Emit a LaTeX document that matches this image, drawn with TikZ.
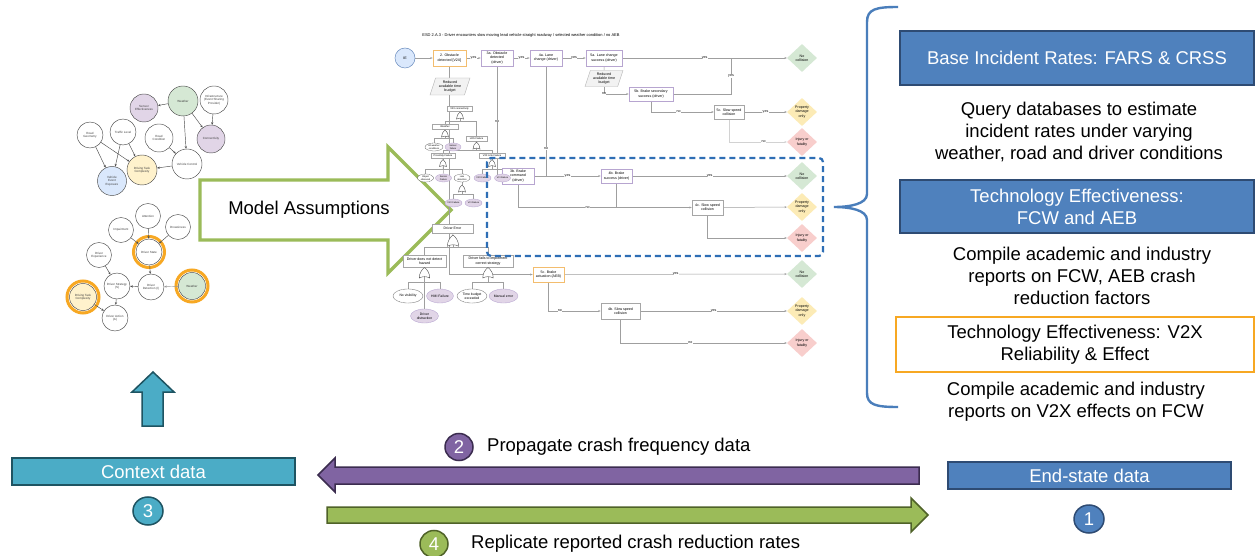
\documentclass[tikz,border=0pt]{standalone}
\usepackage{fontspec}
\setmainfont{Liberation Sans}
\usetikzlibrary{shapes.geometric,arrows.meta}
\pgfdeclarelayer{under}
\pgfdeclarelayer{wires}
\pgfsetlayers{under,wires,main}

\definecolor{blueF}{HTML}{4F81BD}
\definecolor{blueD}{HTML}{2E4B73}
\definecolor{tealF}{HTML}{4BACC6}
\definecolor{tealD}{HTML}{1E5462}
\definecolor{purpF}{HTML}{8064A2}
\definecolor{purpD}{HTML}{3B2C4F}
\definecolor{greenF}{HTML}{9BBB59}
\definecolor{greenD}{HTML}{4F6228}
\definecolor{mgreen}{HTML}{9BBB59}
\definecolor{orng}{HTML}{F7A823}
\definecolor{dashblue}{HTML}{2E6EB5}
\definecolor{braceblue}{HTML}{4A7EBB}
\definecolor{netG}{HTML}{D5E8D4}
\definecolor{netP}{HTML}{E1D5E7}
\definecolor{netY}{HTML}{FFF2CC}
\definecolor{netB}{HTML}{DAE8FC}
\definecolor{okF}{HTML}{D5E8D4}
\definecolor{pdF}{HTML}{FCEBB6}
\definecolor{ifF}{HTML}{F8CECC}
\definecolor{ieD}{HTML}{6C8EBF}
\definecolor{oline}{HTML}{F3BD6E}
\definecolor{pline}{HTML}{B7A5D0}

\tikzset{
  big/.style={font=\fontsize{18.5}{22}\selectfont},
  panel/.style={draw=blueD, line width=1.6pt, fill=blueF, text=white, big, align=center, inner sep=0pt},
  numdisc/.style={ellipse, line width=1.5pt, minimum width=30pt, minimum height=28pt, inner sep=0pt, text=white, big},
  tiny/.style={font=\fontsize{3.6}{4.2}\selectfont},
  etbox/.style={draw=gray!70, fill=white, line width=0.5pt, tiny, align=center, inner sep=0.5pt},
  obox/.style={etbox, draw=oline, line width=0.8pt},
  pbox/.style={etbox, draw=pline, line width=0.8pt},
  par/.style={trapezium, trapezium left angle=70, trapezium right angle=110, draw=gray!60, fill=gray!10, line width=0.4pt, tiny, align=center, inner sep=0pt, trapezium stretches=true},
  endd/.style={diamond, tiny, align=center, inner sep=0pt, minimum width=30pt, minimum height=28pt, draw=none},
  wire/.style={draw=gray!75, line width=0.5pt},
  warrow/.style={wire, -{Stealth[length=2.4pt,width=2pt]}},
  lbl/.style={tiny, fill=white, inner sep=0.3pt},
  ftw/.style={draw=gray!75, line width=0.4pt},
  ftbox/.style={draw=gray!70, fill=white, line width=0.4pt, font=\fontsize{2.5}{3}\selectfont, inner sep=0.3pt, minimum height=5pt},
  ellW/.style={ellipse, draw=black!70, dash pattern=on 0.8pt off 0.5pt, line width=0.35pt, fill=white, align=center, inner sep=0pt},
  ellP/.style={ellipse, draw=pline, line width=0.35pt, fill=netP, align=center, inner sep=0pt},
  small/.style={font=\fontsize{2.3}{2.7}\selectfont, minimum width=16pt, minimum height=8pt},
  mid/.style={font=\fontsize{3.4}{3.9}\selectfont, minimum width=29pt, minimum height=14pt},
  gateline/.style={draw=black!70, fill=white, line width=0.4pt},
  orgate/.pic={
    \draw[gateline] (0,0) .. controls (2,1.5) and (3.5,4) .. (3.5,7)
      .. controls (1.2,5.8) and (-1.2,5.8) .. (-3.5,7)
      .. controls (-3.5,4) and (-2,1.5) .. (0,0);
    \coordinate (-in) at (0,0);
    \coordinate (-out) at (0,6);
  },
  net/.style={circle, draw=black!70, line width=0.45pt, fill=white, minimum size=28pt, inner sep=0pt, align=center, font=\fontsize{3}{3.5}\selectfont, text=black!75},
  netarr/.style={draw=black!70, line width=0.45pt, -{Stealth[length=2.6pt,width=2.2pt]}},
  ring/.style={draw=orng, line width=3pt},
}

\begin{document}
\begin{tikzpicture}[x=1pt,y=-1pt]
\useasboundingbox (0,0) rectangle (1256,556);

\begin{pgfonlayer}{under}
  \fill[white] (0,0) rectangle (1256,556);
  % open arrow carrying the model assumptions
  \path[draw=mgreen, line width=3.2pt, fill=white, line join=miter]
    (200,180) -- (388,180) -- (388,147) -- (451,210) -- (388,273) -- (388,240) -- (200,240) -- cycle;
\end{pgfonlayer}
\node[big] (ma) at (309,210) {Model Assumptions};

% ---------------- upper influence network ----------------
\node[net, fill=netG, minimum size=30pt] (w1) at (183,101) {Weather};
\node[net, fill=netP] (sens) at (144,108) {Sensor\\Effectiveness};
\node[net] (infra) at (214,100) {Infrastructure\\(Event Sharing\\Provider)};
\node[net, fill=netP] (conn) at (211,139) {Connectivity};
\node[net, minimum size=26pt] (rgeo) at (90,135) {Road\\Geometry};
\node[net, minimum size=26pt] (traf) at (123,132) {Traffic Level};
\node[net] (rcond) at (159,138) {Road\\Condition};
\node[net, minimum size=30pt] (vctl) at (187,164) {Vehicle Control};
\node[net, fill=netY, minimum size=30pt] (dtc1) at (142,170) {Driving Task\\Complexity};
\node[net, fill=netB, minimum size=29pt] (vee) at (112,181) {Vehicle\\Event\\Exposure};
\draw[netarr] (w1) -- (sens);
\draw[netarr] (w1) -- (conn);
\draw[netarr] (w1) -- (vctl);
\draw[netarr] (infra) -- (conn);
\draw[netarr] (rgeo) -- (vee);
\draw[netarr] (rgeo) -- (dtc1);
\draw[netarr] (traf) -- (vee);
\draw[netarr] (traf) -- (dtc1);
\draw[netarr] (rcond) -- (vctl);
\draw[netarr] (vctl) -- (dtc1);

% ---------------- lower influence network ----------------
\node[net, minimum size=25pt] (attn) at (148,216) {Attention};
\node[net, minimum size=25pt] (impair) at (121,230) {Impairment};
\node[net, minimum size=25pt] (drowsy) at (178,227) {Drowsiness};
\node[net, minimum size=26pt] (dstate) at (149,252) {Driver State};
\node[net, minimum size=25pt] (dexp) at (99,255) {Driver\\Experience};
\node[net, minimum size=26pt] (dstrat) at (117,286) {Driver Strategy\\(S)};
\node[net, minimum size=26pt] (ddet) at (151,287) {Driver\\Detection (I)};
\node[net, fill=netG, minimum size=27pt] (w2) at (192,286) {Weather};
\node[net, fill=netY, minimum size=27pt] (dtc2) at (83,297) {Driving Task\\Complexity};
\node[net, minimum size=26pt] (dact) at (115,318) {Driver Action\\(A)};
\draw[ring] (dstate) circle[radius=15.5pt];
\draw[ring] (w2) circle[radius=16pt];
\draw[ring] (dtc2) circle[radius=16pt];
\draw[netarr] (impair) -- (dstate);
\draw[netarr] (attn) -- (dstate);
\draw[netarr] (drowsy) -- (dstate);
\draw[netarr] (dstate) -- (ddet);
\draw[netarr, draw=black!40] (w2) -- (ddet);
\draw[netarr] (dexp) -- (dstrat);
\draw[netarr] (ddet) -- (dstrat);
\draw[netarr] (dstrat) -- (dact);
\draw[netarr] (dtc2) -- (dact);

% ---------------- event sequence diagram ----------------
\node[font=\fontsize{4}{4.6}\selectfont] (esdtitle) at (521,35) {ESD 2.A.3 - Driver encounters slow moving lead vehicle straight roadway / selected weather condition / no AEB};

\node[circle, draw=ieD, fill=netB, line width=0.5pt, minimum size=20pt, tiny, inner sep=0pt] (ie) at (405,58) {IE};
\node[obox, minimum width=33pt, minimum height=16pt] (e2) at (449.5,58) {2. Obstacle\\detected [V2X]};
\node[pbox, minimum width=32pt, minimum height=16pt] (e3a) at (497,58) {3a. Obstacle\\detected\\(driver)};
\node[pbox, minimum width=32pt, minimum height=16pt] (e4a) at (546,58) {4a. Lane\\change (driver)};
\node[pbox, minimum width=36pt, minimum height=16pt] (e5a) at (604,58) {5a. Lane change\\success (driver)};
\node[endd, fill=okF] (x1) at (802,58) {No\\collision};
\node[par, minimum width=38pt, minimum height=16pt] (r1) at (604,78.5) {Reduced\\available time\\budget};
\node[pbox, minimum width=44pt, minimum height=14pt] (e5b) at (651,94) {5b. Brake secondary\\success (driver)};
\node[etbox, minimum width=30pt, minimum height=14pt] (e5c) at (729,112) {5c. Slow speed\\collision};
\node[endd, fill=pdF] (x2) at (802,112) {Property\\damage\\only};
\node[endd, fill=ifF] (x3) at (802,142) {Injury or\\fatality};

\node[pbox, minimum width=32pt, minimum height=16pt] (e3b) at (518,176) {3b. Brake\\command\\(driver)};
\node[pbox, minimum width=31pt, minimum height=14pt] (e4b) at (616.5,176) {4b. Brake\\success (driver)};
\node[endd, fill=okF] (x4) at (802,176) {No\\collision};
\node[etbox, minimum width=31pt, minimum height=15pt] (e4c) at (707.5,207.5) {4c. Slow speed\\collision};
\node[endd, fill=pdF] (x5) at (802,207) {Property\\damage\\only};
\node[endd, fill=ifF] (x6) at (802,238) {Injury or\\fatality};

\node[obox, minimum width=31pt, minimum height=15pt] (eaeb) at (548.5,274.5) {5c. Brake\\actuation (AEB)};
\node[endd, fill=okF] (x7) at (802,274) {No\\collision};
\node[etbox, line width=0.8pt, minimum width=39pt, minimum height=16pt] (e5d) at (620.5,311) {4b. Slow speed\\collision};
\node[endd, fill=pdF] (x8) at (802,311) {Property\\damage\\only};
\node[endd, fill=ifF] (x9) at (802,343) {Injury or\\fatality};

\coordinate (j1) at (731,58);
\coordinate (j2) at (546,176);
\coordinate (j3) at (616.5,207.5);

% fault tree under the V2X branch
\node[par, minimum width=40pt, minimum height=17pt] (r2) at (450,86.5) {Reduced\\available time\\budget};
\node[ftbox, minimum width=25pt] (fA) at (459.5,108.5) {V2X connectivity};
\pic (gA) at (460,112) {orgate};
\node[ftbox, minimum width=26pt] (fB) at (445,126.5) {Weather};
\node[ftbox, minimum width=21pt] (fC) at (476.5,139) {LOS Failure};
\pic (gB) at (445,130) {orgate};
\node[ellW, small, minimum width=18pt] (eB1) at (434,147) {All weather\\conditions};
\node[ellP, small] (eB2) at (453,147) {Sensor\\failure};
\pic (gC) at (476.5,142) {orgate};
\node[ftbox, minimum width=24pt] (fD) at (443,156) {Proximity Failure};
\node[ftbox, minimum width=26pt] (fE) at (492,156) {V2X Link Failure};
\pic (gD) at (443,159.5) {orgate};
\pic (gE) at (492,159.5) {orgate};
\node[ellW, small] (t1) at (425.5,178) {Object\\obscured};
\node[ellP, small] (t2) at (443.5,178) {Sensor\\Failure};
\node[ellW, small] (t3) at (462,178) {Late\\detection};
\node[ellP, small] (t4) at (482.5,178) {V2V Failure};
\node[ellP, small] (t5) at (502.5,178) {V2I Failure};
\pic (gF) at (462,185) {orgate};
\node[ellP, small, minimum width=17pt] (t6) at (453.5,203) {V2V Failure};
\node[ellP, small, minimum width=17pt] (t7) at (473.5,203) {V2I Failure};

\node[etbox, minimum width=41pt, minimum height=9pt, font=\fontsize{3.4}{4}\selectfont] (derr) at (452.5,228.5) {Driver Error};
\pic[scale=1.6] (gDE) at (453,235) {orgate};
\node[etbox, minimum width=43pt, minimum height=12pt] (ftl) at (424.5,261) {Driver does not detect\\hazard};
\node[etbox, minimum width=50pt, minimum height=12pt] (ftr) at (488,261) {Driver fails to implement\\correct strategy};
\pic[scale=1.5] (gL) at (424.5,267.5) {orgate};
\pic[scale=1.5] (gR) at (488,267.5) {orgate};
\node[ellW, mid, minimum width=30pt] (l1) at (408,296) {No visibility};
\node[ellP, mid, minimum width=27pt] (l2) at (440,296) {HMI Failure};
\node[ellP, mid, minimum width=28pt] (l3) at (424.5,316) {Driver\\distraction};
\node[ellW, mid, minimum width=30pt] (q1) at (472,296) {Time budget\\exceeded};
\node[ellP, mid, minimum width=29pt] (q2) at (503.5,296) {Manual error};

\begin{pgfonlayer}{wires}
  \draw[warrow] (ie) -- (e2);
  \draw[warrow] (e2) -- node[lbl]{yes} (e3a);
  \draw[warrow] (e3a) -- node[lbl]{yes} (e4a);
  \draw[warrow] (e4a) -- node[lbl]{yes} (e5a);
  \draw[warrow] (e5a) -- node[lbl]{yes} (x1);
  \draw[wire] (e5a) -- (r1);
  \draw[warrow] (r1.south) |- node[lbl]{no} (e5b.west);
  \draw[wire] (e5b.east) -| node[lbl, pos=0.75]{yes} (j1);
  \draw[warrow] (e5b.south) |- node[lbl, pos=0.72]{no} (e5c.west);
  \draw[warrow] (e5c) -- node[lbl]{yes} (x2);
  \draw[warrow, draw=gray!35] (e5c.south) |- node[lbl, pos=0.8]{no} (x3.west);

  \draw[warrow] (e3a.south) |- node[lbl, pos=0.25]{no} (e3b.west);
  \draw[wire] (e4a.south) -- node[lbl, pos=0.75]{no} (j2);
  \draw[warrow] (e3b) -- node[lbl]{yes} (e4b);
  \draw[warrow] (e4b) -- node[lbl]{yes} (x4);
  \draw[warrow] (e3b.south) |- node[lbl, pos=0.7]{no} (e4c.west);
  \draw[wire] (e4b.south) -- (j3);
  \draw[warrow] (e4c) -- (x5);
  \draw[warrow] (e4c.south) |- (x6.west);

  \draw[warrow] (e2.south) |- (eaeb.west);
  \draw[warrow] (eaeb) -- node[lbl]{yes} (x7);
  \draw[warrow] (eaeb.south) |- node[lbl, pos=0.61]{no} (e5d.west);
  \draw[warrow] (e5d) -- node[lbl]{yes} (x8);
  \draw[warrow] (e5d.south) |- node[lbl, pos=0.71]{no} (x9.west);

  \draw[ftw] (fA.south) -- (gA-in);
  \draw[ftw] (gA-out) -- ++(0,3) -| (fB.north);
  \draw[ftw] (gA-out) -- ++(0,3) -| (fC.north);
  \draw[ftw] (fB.south) -- (gB-in);
  \draw[ftw] (gB-out) -- ++(0,2.5) -| (eB1.north);
  \draw[ftw] (gB-out) -- ++(0,2.5) -| (eB2.north);
  \draw[ftw] (fC.south) -- (gC-in);
  \draw[ftw] (gC-out) -- ++(0,2.5) -| (fD.north);
  \draw[ftw] (gC-out) -- ++(0,2.5) -| (fE.north);
  \draw[ftw] (fD.south) -- (gD-in);
  \draw[ftw] (gD-out) -- ++(0,4) -| (t1.north);
  \draw[ftw] (gD-out) -- (t2.north);
  \draw[ftw] (gD-out) -- ++(0,4) -| (t3.north);
  \draw[ftw] (fE.south) -- (gE-in);
  \draw[ftw] (gE-out) -- ++(0,4) -| (t4.north);
  \draw[ftw] (gE-out) -- ++(0,4) -| (t5.north);
  \draw[ftw] (t3.south) -- (gF-in);
  \draw[ftw] (gF-out) -- ++(0,3.5) -| (t6.north);
  \draw[ftw] (gF-out) -- ++(0,3.5) -| (t7.north);

  \draw[ftw] (derr.south) -- (gDE-in);
  \draw[ftw] (gDE-out) -- ++(0,2.5) -| (ftl.north);
  \draw[ftw] (gDE-out) -- ++(0,2.5) -| (ftr.north);
  \draw[ftw] (ftl.south) -- (gL-in);
  \draw[ftw] (gL-out) -- ++(0,6) -| (l1.north);
  \draw[ftw] (gL-out) -- ++(0,6) -| (l2.north);
  \draw[ftw] (gL-out) -- (l3.north);
  \draw[ftw] (ftr.south) -- (gR-in);
  \draw[ftw] (gR-out) -- ++(0,6) -| (q1.north);
  \draw[ftw] (gR-out) -- ++(0,6) -| (q2.north);
\end{pgfonlayer}

% highlighted region of the sequence diagram
\draw[dashblue, line width=2.2pt, dash pattern=on 6pt off 4pt, rounded corners=4pt] (487,158) rectangle (823,256);

% ---------------- data sources panel ----------------
\draw[braceblue, line width=2.4pt]
  (898,7) .. controls (876,7) and (867,9) .. (867,22) -- (867,194)
  .. controls (867,204) and (850,207) .. (834,207)
  .. controls (850,207) and (867,210) .. (867,220) -- (867,393)
  .. controls (867,405) and (876,407) .. (898,407);

\node[panel, minimum width=354pt, minimum height=54pt] (fars) at (1077,58) {Base Incident Rates: FARS \& CRSS};
\node[big, align=center] (farsnote) at (1079,132) {Query databases to estimate\\incident rates under varying\\weather, road and driver conditions};
\node[panel, minimum width=354pt, minimum height=53pt] (tech) at (1077,206.5) {Technology Effectiveness:\\FCW and AEB};
\node[big, align=center] (technote) at (1082,276) {Compile academic and industry\\reports on FCW, AEB crash\\reduction factors};
\node[draw=orng, line width=1.8pt, fill=white, minimum width=358pt, minimum height=55pt, big, align=center, inner sep=0pt] (v2x) at (1075,344.5) {Technology Effectiveness: V2X\\Reliability \& Effect};
\node[big, align=center] (v2xnote) at (1076,401.5) {Compile academic and industry\\reports on V2X effects on FCW};

% ---------------- data flow along the bottom ----------------
\path[draw=tealD, fill=tealF, line width=1.5pt, line join=miter]
  (142,426) -- (142,392) -- (132,392) -- (153,372) -- (174,392) -- (163,392) -- (163,426) -- cycle;
\node[draw=tealD, fill=tealF, line width=1.5pt, minimum width=283pt, minimum height=27pt, text=white, big, inner sep=0pt] (ctx) at (153.5,471.5) {Context data};
\node[numdisc, draw=tealD, fill=tealF] (s3) at (148,511) {3};

\path[draw=purpD, fill=purpF, line width=1.5pt, line join=miter]
  (318,475) -- (335,458) -- (335,467) -- (919,467) -- (919,484) -- (335,484) -- (335,492) -- cycle;
\path[draw=greenD, fill=greenF, line width=1.5pt, line join=miter]
  (327,507) -- (911,507) -- (911,498) -- (928,515) -- (911,532) -- (911,523) -- (327,523) -- cycle;

\node[numdisc, draw=purpD, fill=purpF, minimum width=28pt, minimum height=27pt] (s2) at (459,447) {2};
\node[big, anchor=west, inner sep=0pt] (t2lbl) at (487,447) {Propagate crash frequency data};
\node[numdisc, draw=greenD, fill=greenF, minimum width=28pt, minimum height=27pt] (s4) at (434,544) {4};
\node[big, anchor=west, inner sep=0pt] (t4lbl) at (471,544) {Replicate reported crash reduction rates};

\node[draw=blueD, fill=blueF, line width=1.5pt, minimum width=283pt, minimum height=27pt, text=white, big, inner sep=0pt] (endst) at (1089.5,475.5) {End-state data};
\node[numdisc, draw=blueD, fill=blueF] (s1) at (1089,519) {1};

\end{tikzpicture}
\end{document}
